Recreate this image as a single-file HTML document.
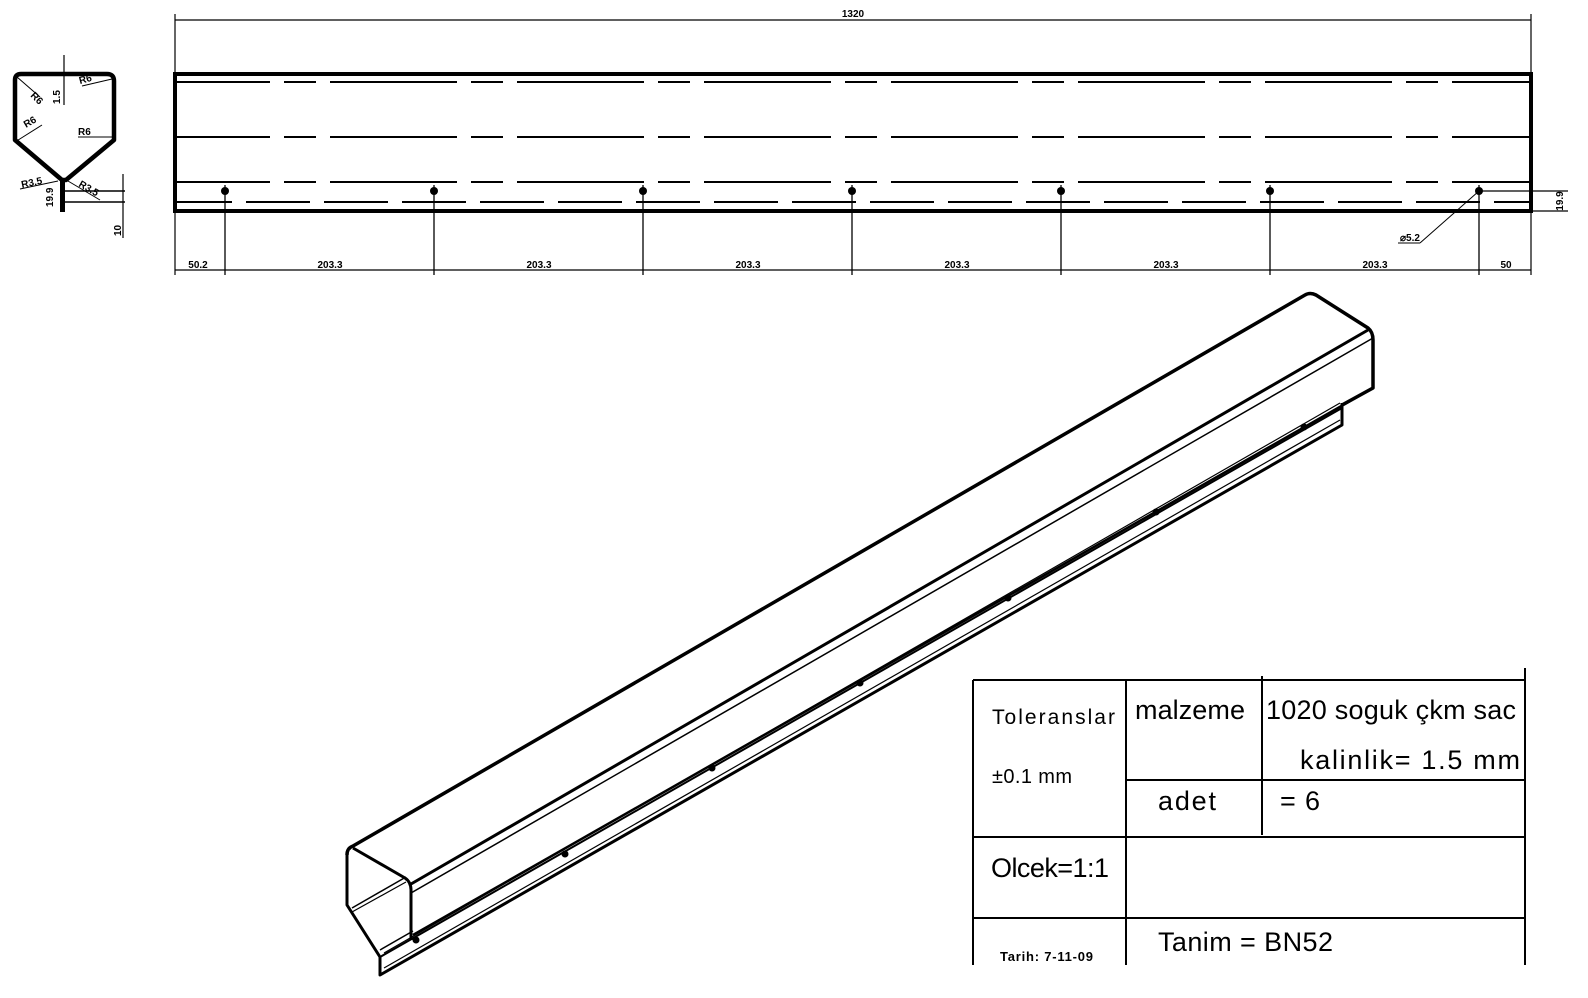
<!DOCTYPE html>
<html><head><meta charset="utf-8"><style>
html,body{margin:0;padding:0;background:#fff;}
svg{display:block;}
text{font-family:"Liberation Sans",sans-serif;fill:#000;}
</style></head><body>
<svg width="1588" height="998" viewBox="0 0 1588 998" xmlns="http://www.w3.org/2000/svg">
<!-- Left profile -->
<g fill="none" stroke="#000">
<path d="M15,140 L15,80 Q15,74 21,74 L107,74 Q114,74 114,81 L114,140 L66,180 L62,180 L15,140 Z" stroke-width="4.5" stroke-linejoin="round"/>
<rect x="60" y="180" width="5" height="32" fill="#000" stroke="none"/>
<line x1="64" y1="55" x2="64" y2="105" stroke-width="1.2"/>
<line x1="65" y1="191" x2="125" y2="191" stroke-width="1.5"/>
<line x1="65" y1="202" x2="125" y2="202" stroke-width="1.5"/>
<line x1="123" y1="174" x2="123" y2="238" stroke-width="1.2"/>
<line x1="17" y1="77" x2="40" y2="97" stroke-width="1"/>
<line x1="112" y1="79" x2="82" y2="86" stroke-width="1"/>
<line x1="15" y1="142" x2="42" y2="125" stroke-width="1"/>
<line x1="112" y1="137" x2="78" y2="137" stroke-width="1"/>
<line x1="20" y1="189" x2="58" y2="181" stroke-width="1"/>
<line x1="68" y1="181" x2="100" y2="200" stroke-width="1"/>
</g>
<g font-size="10" font-weight="bold">
<text x="30" y="96" transform="rotate(45 30 96)">R6</text>
<text x="80" y="84" transform="rotate(-15 80 84)">R6</text>
<text x="26" y="128" transform="rotate(-30 26 128)">R6</text>
<text x="78" y="135">R6</text>
<text x="60" y="104" transform="rotate(-90 60 104)">1.5</text>
<text x="22" y="188" transform="rotate(-12 22 188)">R3.5</text>
<text x="78" y="186" transform="rotate(30 78 186)">R3.5</text>
<text x="53" y="207" transform="rotate(-90 53 207)">19.9</text>
<text x="121" y="236" transform="rotate(-90 121 236)">10</text>
</g>

<!-- Front view -->
<g fill="none" stroke="#000">
<line x1="175" y1="20" x2="1531" y2="20" stroke-width="1.2"/>
<line x1="175" y1="14" x2="175" y2="275" stroke-width="1.2"/>
<line x1="1531" y1="14" x2="1531" y2="275" stroke-width="1.2"/>
<rect x="175" y="74" width="1356" height="137" stroke-width="4"/>
<g stroke-width="2" stroke-dasharray="127 14 32 14" stroke-dashoffset="32">
<line x1="175" y1="82" x2="1531" y2="82"/>
<line x1="175" y1="137" x2="1531" y2="137"/>
<line x1="175" y1="182" x2="1531" y2="182"/>
</g>
<line x1="175" y1="202" x2="1531" y2="202" stroke-width="2" stroke-dasharray="64 14" stroke-dashoffset="7"/>
<line x1="175" y1="270" x2="1531" y2="270" stroke-width="1.2"/>
<g stroke-width="1.3">
<line x1="225" y1="185" x2="225" y2="275"/>
<line x1="434" y1="185" x2="434" y2="275"/>
<line x1="643" y1="185" x2="643" y2="275"/>
<line x1="852" y1="185" x2="852" y2="275"/>
<line x1="1061" y1="185" x2="1061" y2="275"/>
<line x1="1270" y1="185" x2="1270" y2="275"/>
<line x1="1479" y1="185" x2="1479" y2="275"/>
</g>
<line x1="1479" y1="191" x2="1568" y2="191" stroke-width="1.2"/>
<line x1="1531" y1="211" x2="1568" y2="211" stroke-width="1.2"/>
<line x1="1479" y1="191" x2="1420" y2="243" stroke-width="1"/>
<line x1="1420" y1="243" x2="1398" y2="243" stroke-width="1"/>
</g>
<g fill="#000">
<circle cx="225" cy="191" r="4"/><circle cx="434" cy="191" r="4"/><circle cx="643" cy="191" r="4"/>
<circle cx="852" cy="191" r="4"/><circle cx="1061" cy="191" r="4"/><circle cx="1270" cy="191" r="4"/><circle cx="1479" cy="191" r="4"/>
</g>
<g font-size="10" font-weight="bold" text-anchor="middle">
<text x="853" y="17">1320</text>
<text x="198" y="268">50.2</text>
<text x="330" y="268">203.3</text>
<text x="539" y="268">203.3</text>
<text x="748" y="268">203.3</text>
<text x="957" y="268">203.3</text>
<text x="1166" y="268">203.3</text>
<text x="1375" y="268">203.3</text>
<text x="1506" y="268">50</text>
<text x="1410" y="241">⌀5.2</text>
<text x="1563" y="201" transform="rotate(-90 1563 201)">19.9</text>
</g>

<!-- Isometric -->
<g fill="none" stroke="#000" stroke-linejoin="round">
<path d="M347,855 Q347,848 353,846 L1305,295 Q1310,292 1316,295 L1368,328 Q1373,332 1373,340 L1373,388 L1342,405" stroke-width="3.5"/>
<path d="M353,848 L405,878 Q411,882 411,890 L411,940" stroke-width="3"/>
<line x1="411" y1="884" x2="1368" y2="330" stroke-width="3"/>
<line x1="411" y1="893" x2="1373" y2="338" stroke-width="1.5"/>
<line x1="413" y1="935" x2="1373" y2="388" stroke-width="2.5"/>
<path d="M347,855 L347,905 L380,957 L380,975 L1342,425 L1342,403" stroke-width="3"/>
<line x1="380" y1="957" x2="1342" y2="408" stroke-width="2"/>
<line x1="384" y1="968" x2="1340" y2="420" stroke-width="1.2"/>
<line x1="384" y1="953" x2="1340" y2="403" stroke-width="1.2"/>
<line x1="352" y1="908" x2="406" y2="877" stroke-width="1.5"/>
<line x1="352" y1="912" x2="406" y2="882" stroke-width="1.2"/>
<line x1="380" y1="950" x2="413" y2="931" stroke-width="1.5"/>
</g>
<g fill="#000">
<circle cx="416" cy="940" r="3.5"/><circle cx="565" cy="854" r="3.5"/><circle cx="712" cy="768" r="3.5"/>
<circle cx="860" cy="683" r="3.5"/><circle cx="1008" cy="598" r="3.5"/><circle cx="1156" cy="512" r="3.5"/><circle cx="1304" cy="427" r="3.5"/>
</g>

<!-- Title block -->
<g fill="none" stroke="#000" stroke-width="2">
<line x1="973" y1="680" x2="1525" y2="680"/>
<line x1="973" y1="680" x2="973" y2="965"/>
<line x1="1525" y1="668" x2="1525" y2="965"/>
<line x1="1126" y1="680" x2="1126" y2="965"/>
<line x1="1262" y1="676" x2="1262" y2="835"/>
<line x1="1126" y1="780" x2="1525" y2="780"/>
<line x1="973" y1="837" x2="1525" y2="837"/>
<line x1="973" y1="918" x2="1525" y2="918"/>
</g>
<g>
<text x="992" y="724" font-size="21" textLength="123" lengthAdjust="spacing">Toleranslar</text>
<text x="992" y="783" font-size="20" textLength="80" lengthAdjust="spacing">±0.1 mm</text>
<text x="1135" y="719" font-size="27" textLength="110" lengthAdjust="spacing">malzeme</text>
<text x="1266" y="719" font-size="27" textLength="250" lengthAdjust="spacing">1020 soguk çkm sac</text>
<text x="1300" y="769" font-size="27" textLength="220" lengthAdjust="spacing">kalinlik= 1.5 mm</text>
<text x="1158" y="810" font-size="27" textLength="58" lengthAdjust="spacing">adet</text>
<text x="1280" y="810" font-size="27" textLength="40" lengthAdjust="spacing">= 6</text>
<text x="991" y="877" font-size="27" textLength="118" lengthAdjust="spacing">Olcek=1:1</text>
<text x="1158" y="951" font-size="27" textLength="175" lengthAdjust="spacing">Tanim = BN52</text>
<text x="1000" y="961" font-size="13" font-weight="bold" textLength="93" lengthAdjust="spacing">Tarih: 7-11-09</text>
</g>
</svg>
</body></html>
